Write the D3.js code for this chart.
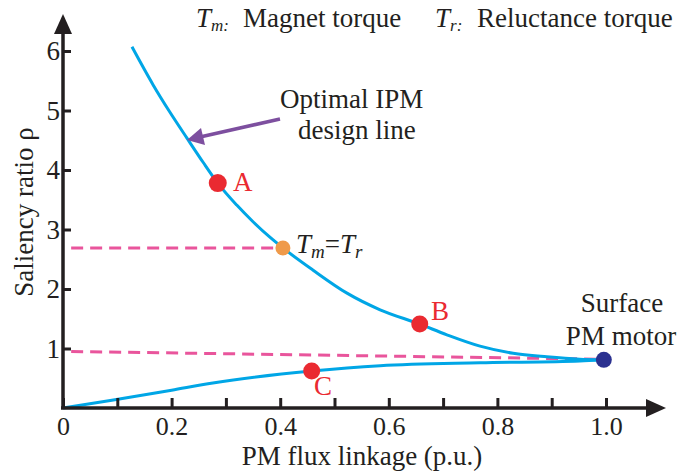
<!DOCTYPE html>
<html>
<head>
<meta charset="utf-8">
<script src="https://cdn.jsdelivr.net/npm/d3@7"></script>
<style>
  body { margin: 0; background: #fff; }
  svg text { font-family: "Liberation Serif", "Times New Roman", serif; }
</style>
</head>
<body>
<div id="chart"></div>
<script>
// optimal IPM design line (upper branch)
var upperX = [0.127, 0.166, 0.197, 0.228, 0.258, 0.285, 0.320, 0.350, 0.381, 0.405, 0.460, 0.523, 0.584, 0.657, 0.707, 0.768, 0.829, 0.891, 0.952, 0.993];
var upperY = [6.07, 5.43, 4.97, 4.54, 4.13, 3.78, 3.41, 3.13, 2.87, 2.69, 2.32, 1.93, 1.65, 1.41, 1.23, 1.04, 0.92, 0.86, 0.82, 0.81];
// lower branch
var lowerX = [0, 0.090, 0.2, 0.276, 0.458, 0.584, 0.768, 0.952, 0.993];
var lowerY = [0, 0.13, 0.30, 0.42, 0.62, 0.71, 0.76, 0.79, 0.81];
// dashed reference lines
var dash1X = [0.015, 0.405], dash1Y = [2.69, 2.69];
var dash2X = [0.015, 0.99], dash2Y = [0.95, 0.82];
// marked points
var pointNames = ["A", "Tm=Tr", "B", "C", "Surface"];
var pointX = [0.285, 0.405, 0.657, 0.458, 0.996];
var pointY = [3.78, 2.69, 1.41, 0.62, 0.81];
var pointColor = ["#ea2a31", "#ef9a4a", "#ea2a31", "#ea2a31", "#2b3190"];
var pointR = [9, 7.5, 8.5, 8.5, 8];
var xTicks = [0, 0.1, 0.2, 0.3, 0.4, 0.5, 0.6, 0.7, 0.8, 0.9, 1.0];
var xTickLabels = ["0", "", "0.2", "", "0.4", "", "0.6", "", "0.8", "", "1.0"];
var yTicks = [1, 2, 3, 4, 5, 6];

var width = 681, height = 473;
var svg = d3.select("#chart").append("svg")
    .attr("width", width)
    .attr("height", height)
    .attr("font-family", "Liberation Serif");

var x = d3.scaleLinear().domain([0, 1]).range([63, 606]);
var y = d3.scaleLinear().domain([0, 6]).range([408, 51]);

var blue = "#00a6e6", pink = "#e9559c", ink = "#231f20", red = "#ea2a31";

var line = d3.line()
    .x(function(d){ return x(d[0]); })
    .y(function(d){ return y(d[1]); })
    .curve(d3.curveMonotoneX);
var straight = d3.line()
    .x(function(d){ return x(d[0]); })
    .y(function(d){ return y(d[1]); });

function pairs(xs, ys){ return xs.map(function(v, i){ return [v, ys[i]]; }); }

// dashed lines
[[dash1X, dash1Y], [dash2X, dash2Y]].forEach(function(p){
  svg.append("path").datum(pairs(p[0], p[1]))
    .attr("d", straight)
    .attr("fill", "none").attr("stroke", pink).attr("stroke-width", 3)
    .attr("stroke-dasharray", "12,7");
});

// curves
svg.append("path").datum(pairs(upperX, upperY))
    .attr("d", line).attr("fill", "none").attr("stroke", blue).attr("stroke-width", 3);
svg.append("path").datum(pairs(lowerX, lowerY))
    .attr("d", line).attr("fill", "none").attr("stroke", blue).attr("stroke-width", 3);

// axes
var xAxis = svg.append("g").attr("transform", "translate(0,408)")
    .call(d3.axisBottom(x).tickValues(xTicks).tickSize(-10).tickPadding(18)
      .tickFormat(function(d, i){ return xTickLabels[i]; }));
var yAxis = svg.append("g").attr("transform", "translate(63,0)")
    .call(d3.axisLeft(y).tickValues(yTicks).tickSize(-8).tickPadding(3)
      .tickFormat(d3.format("d")));
[xAxis, yAxis].forEach(function(g){
  g.attr("font-family", null).attr("font-size", null);
  g.select(".domain").remove();
  g.selectAll(".tick line").attr("stroke", ink).attr("stroke-width", 3);
  g.selectAll(".tick text").attr("fill", ink).style("font-size", "26px");
});
xAxis.selectAll(".tick text").attr("dy", null).attr("y", 27);
yAxis.selectAll(".tick text").attr("dy", "0.33em").style("font-size", "27px");

// axis lines with arrowheads
svg.append("line").attr("x1", 63).attr("y1", 409).attr("x2", 63).attr("y2", 30)
    .attr("stroke", ink).attr("stroke-width", 3.5);
svg.append("line").attr("x1", 61).attr("y1", 408).attr("x2", 650).attr("y2", 408)
    .attr("stroke", ink).attr("stroke-width", 3.5);
svg.append("path").attr("d", "M63,14 L54,34 L72,34 Z").attr("fill", ink);
svg.append("path").attr("d", "M666,408 L646,399 L646,417 Z").attr("fill", ink);

// axis titles
svg.append("text").attr("x", 362).attr("y", 465).attr("text-anchor", "middle")
    .style("font-size", "27px").attr("fill", ink).text("PM flux linkage (p.u.)");
svg.append("text").attr("transform", "translate(33,212) rotate(-90)")
    .attr("text-anchor", "middle").style("font-size", "27px").attr("fill", ink)
    .text("Saliency ratio \u03c1");

// points
svg.selectAll("circle.pt").data(pointNames).enter().append("circle")
    .attr("class", "pt")
    .attr("cx", function(d, i){ return x(pointX[i]); })
    .attr("cy", function(d, i){ return y(pointY[i]); })
    .attr("r", function(d, i){ return pointR[i]; })
    .attr("fill", function(d, i){ return pointColor[i]; });

// point labels
svg.append("text").attr("x", 233).attr("y", 191).style("font-size", "27px").attr("fill", red).text("A");
svg.append("text").attr("x", 431).attr("y", 320).style("font-size", "27px").attr("fill", red).text("B");
svg.append("text").attr("x", 314).attr("y", 395).style("font-size", "27px").attr("fill", red).text("C");

var tm = svg.append("text").attr("x", 296).attr("y", 253).style("font-size", "27px").attr("fill", ink);
tm.append("tspan").style("font-style", "italic").text("T");
tm.append("tspan").style("font-style", "italic").style("font-size", "19px").attr("dy", 5).text("m");
tm.append("tspan").attr("dy", -5).text("=");
tm.append("tspan").style("font-style", "italic").text("T");
tm.append("tspan").style("font-style", "italic").style("font-size", "19px").attr("dy", 5).text("r");

svg.append("text").attr("x", 622).attr("y", 312).attr("text-anchor", "middle")
    .style("font-size", "27px").attr("fill", ink).text("Surface");
svg.append("text").attr("x", 621).attr("y", 345).attr("text-anchor", "middle")
    .style("font-size", "27px").attr("fill", ink).text("PM motor");

// annotation arrow
svg.append("line").attr("x1", 280).attr("y1", 119).attr("x2", 200).attr("y2", 137)
    .attr("stroke", "#7d4f9f").attr("stroke-width", 3.5);
svg.append("path").attr("d", "M187,140 L201,128 L205,145 Z").attr("fill", "#7d4f9f");
svg.append("text").attr("x", 280).attr("y", 108).style("font-size", "27px").attr("fill", ink).text("Optimal IPM");
svg.append("text").attr("x", 298).attr("y", 139).style("font-size", "27px").attr("fill", ink).text("design line");

// legend at top
var leg1 = svg.append("text").attr("x", 196).attr("y", 27).style("font-size", "27px").attr("fill", ink);
leg1.append("tspan").style("font-style", "italic").text("T");
leg1.append("tspan").style("font-style", "italic").style("font-size", "17px").attr("dy", 4).text("m:");
leg1.append("tspan").attr("dy", -4).attr("x", 243).text("Magnet torque");
var leg2 = svg.append("text").attr("x", 435).attr("y", 27).style("font-size", "27px").attr("fill", ink);
leg2.append("tspan").style("font-style", "italic").text("T");
leg2.append("tspan").style("font-style", "italic").style("font-size", "17px").attr("dy", 4).text("r:");
leg2.append("tspan").attr("dy", -4).attr("x", 477).text("Reluctance torque");
</script>
</body>
</html>
